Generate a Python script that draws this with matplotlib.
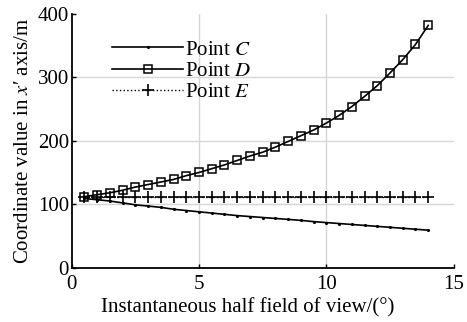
import numpy as np
import matplotlib
matplotlib.use('Agg')
import matplotlib.pyplot as plt

plt.rcParams['font.family'] = ['Liberation Serif', 'DejaVu Serif']
plt.rcParams['mathtext.fontset'] = 'stix'

# half field of view (deg)
fov = [0.5, 1.0, 1.5, 2.0, 2.5, 3.0, 3.5, 4.0, 4.5, 5.0, 5.5, 6.0, 6.5, 7.0,
       7.5, 8.0, 8.5, 9.0, 9.5, 10.0, 10.5, 11.0, 11.5, 12.0, 12.5, 13.0, 13.5, 14.0]

point_c = [109, 107, 105, 102, 99, 97, 95, 92, 90, 88, 86, 84, 82, 80.5,
           79, 77.5, 76, 74.5, 72.5, 71, 69.5, 68, 66.5, 65, 63.5, 62, 60.5, 59]
point_d = [112, 115, 118, 122, 127, 131, 135, 139, 145, 150, 156, 162, 169, 176,
           182, 190, 199, 208, 217, 228, 240, 254, 270, 287, 307, 328, 352, 382]
point_e = [111] * 28

xticks = [0, 5, 10, 15]
yticks = [0, 100, 200, 300, 400]

fig = plt.figure(figsize=(4.67, 3.22), dpi=100)
ax = fig.add_axes([0.1535, 0.169, 0.818, 0.7875])

ax.plot(fov, point_c, '-', color='black', lw=1.2, marker='.', markersize=2.5,
        label='Point $C$')
ax.plot(fov, point_d, '-', color='black', lw=1.2, marker='s', markersize=5.2,
        markerfacecolor='none', markeredgewidth=1.1, label='Point $D$')
ax.plot(fov, point_e, ':', color='black', lw=1.0, marker='+', markersize=9,
        markeredgewidth=1.2, label='Point $E$')

ax.set_xlim(0, 15)
ax.set_ylim(0, 400)
ax.set_xticks(xticks)
ax.set_yticks(yticks)
ax.tick_params(direction='in', length=3, width=1, labelsize=15)
ax.tick_params(axis='x', pad=5)
ax.tick_params(axis='y', pad=2)

for x in [5, 10]:
    ax.axvline(x, color='#d6d6d6', lw=1, zorder=0)
for y in [100, 200, 300]:
    ax.axhline(y, color='#d6d6d6', lw=1, zorder=0)

ax.spines['top'].set_visible(False)
ax.spines['right'].set_visible(False)
ax.spines['left'].set_linewidth(1.3)
ax.spines['bottom'].set_linewidth(1.3)

ax.set_xlabel('Instantaneous half field of view/(°)', fontsize=15)
ax.xaxis.set_label_coords(0.462, -0.12)
ax.set_ylabel("Coordinate value in $x$′ axis/m", fontsize=15, labelpad=3)

ax.legend(loc='upper left', bbox_to_anchor=(0.085, 0.93), frameon=False,
          fontsize=15, handlelength=3.4, handletextpad=0.1, labelspacing=0.08,
          borderaxespad=0)

fig.savefig('out.png', dpi=100)
